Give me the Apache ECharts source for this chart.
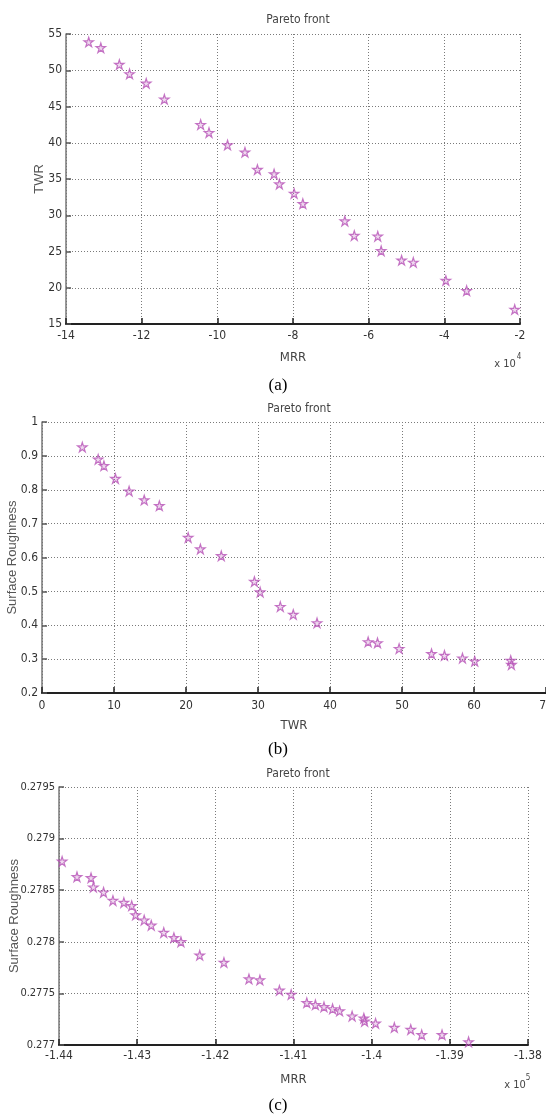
<!DOCTYPE html>
<html>
<head>
<meta charset="utf-8">
<script src="https://cdn.jsdelivr.net/npm/echarts@6/dist/echarts.min.js"></script>
<style>
  html, body { margin: 0; padding: 0; background: #fff; }
  #main { width: 546px; height: 1116px; }
</style>
</head>
<body>
<div id="main"></div>
<script>
// (a) MRR (x 10^4) vs TWR
const mrrA = [-13.40, -13.08, -12.59, -12.32, -11.88, -11.40, -10.44, -10.22, -9.73, -9.27, -8.94, -8.50,
  -8.36, -7.97, -7.74, -6.63, -6.38, -5.76, -5.67, -5.13, -4.82, -3.96, -3.41, -2.14];
const twrA = [53.9, 53.1, 50.8, 49.5, 48.2, 46.0, 42.5, 41.4, 39.7, 38.7, 36.3, 35.7,
  34.3, 33.0, 31.6, 29.2, 27.2, 27.1, 25.1, 23.8, 23.5, 21.0, 19.6, 17.0];

// (b) TWR vs surface roughness
const twrB = [5.6, 7.8, 8.6, 10.2, 12.1, 14.2, 16.3, 20.3, 22.0, 24.9, 29.5, 30.3,
  33.1, 34.9, 38.2, 45.3, 46.6, 49.6, 54.1, 55.9, 58.4, 60.1, 65.1, 65.2];
const srB = [0.926, 0.890, 0.871, 0.833, 0.796, 0.770, 0.753, 0.659, 0.625, 0.605, 0.529, 0.498,
  0.455, 0.432, 0.407, 0.351, 0.348, 0.331, 0.316, 0.311, 0.303, 0.294, 0.296, 0.284];

// (c) MRR (x 10^5) vs surface roughness
const mrrC = [-1.4396, -1.4377, -1.4359, -1.4356, -1.4343, -1.4331, -1.4317, -1.4307, -1.4302, -1.4291,
  -1.4282, -1.4266, -1.4253, -1.4244, -1.4220, -1.4189, -1.4157, -1.4143, -1.4118, -1.4103,
  -1.4083, -1.4072, -1.4061, -1.4050, -1.4041, -1.4025, -1.4010, -1.4009, -1.3995, -1.3971,
  -1.3950, -1.3936, -1.3910, -1.3876];
const srC = [0.27878, 0.27863, 0.27862, 0.27853, 0.27848, 0.27840, 0.27838, 0.27835, 0.27826, 0.27821,
  0.27816, 0.27809, 0.27804, 0.27800, 0.27787, 0.27780, 0.27764, 0.27763, 0.27753, 0.27749,
  0.27741, 0.27739, 0.27737, 0.27735, 0.27733, 0.27728, 0.27726, 0.27723, 0.27721, 0.27717,
  0.27715, 0.27710, 0.27710, 0.27703];

const panelTitle = "Pareto front";
const panelLabels = ["(a)", "(b)", "(c)"];

const narrow = "'Liberation Sans Narrow', 'DejaVu Sans Condensed', 'Liberation Sans', sans-serif";
const plain = "'Liberation Sans', Arial, sans-serif";
const serif = "'Liberation Serif', 'Times New Roman', serif";
const star = "path://M0,-100 L22.45,-30.9 L95.1,-30.9 L36.3,11.8 L58.8,80.9 L0,38.2 L-58.8,80.9 L-36.3,11.8 L-95.1,-30.9 L-22.45,-30.9 Z";

const trim = (v) => String(parseFloat(v.toFixed(5)));

function xAx(idx, min, max, interval, name, gap, margin) {
  return {
    gridIndex: idx, type: "value", min: min, max: max, interval: interval,
    name: name, nameLocation: "middle", nameGap: gap, nameMoveOverlap: false,
    nameTextStyle: { fontFamily: narrow, fontSize: 13, color: "#444" },
    axisLine: { show: true, onZero: false, lineStyle: { color: "#222", width: 2 } },
    axisTick: { show: true, inside: true, length: 6, lineStyle: { color: "#222", width: 1.5 } },
    axisLabel: { fontFamily: narrow, fontSize: 12, color: "#333", margin: margin, formatter: trim,
      showMaxLabel: true, hideOverlap: false },
    splitLine: { show: true, lineStyle: { color: "#7a7a7a", type: [1, 2], width: 1 } }
  };
}

function yAx(idx, min, max, interval, name, gap, labelSize) {
  return {
    gridIndex: idx, type: "value", min: min, max: max, interval: interval,
    name: name, nameLocation: "middle", nameGap: gap, nameMoveOverlap: false,
    nameTextStyle: { fontFamily: plain, fontSize: 13, color: "#555" },
    axisLine: { show: true, onZero: false, lineStyle: { color: "#777", width: 1.5 } },
    axisTick: { show: true, inside: true, length: 5, lineStyle: { color: "#555", width: 1.5 } },
    axisLabel: { fontFamily: narrow, fontSize: labelSize, color: "#333", margin: 4, formatter: trim },
    splitLine: { show: true, lineStyle: { color: "#7a7a7a", type: [1, 2], width: 1 } }
  };
}

function pts(xs, ys) {
  return xs.map((x, i) => [x, ys[i]]);
}

function sc(idx, data) {
  return {
    type: "scatter", xAxisIndex: idx, yAxisIndex: idx, data: data,
    symbol: star, symbolSize: 9.5,
    itemStyle: { color: "rgba(190,100,190,0.3)", borderColor: "#b653b6", borderWidth: 1.2 },
    silent: true, animation: false
  };
}

function ttl(cx, top) {
  return {
    text: panelTitle, left: cx, top: top, textAlign: "center",
    textStyle: { fontFamily: narrow, fontSize: 12, fontWeight: "normal", color: "#444" }
  };
}

function txt(x, y, s, font, size, color) {
  return {
    type: "text", x: x, y: y,
    style: { text: s, font: size + "px " + font, fill: color, textAlign: "center", textVerticalAlign: "middle" }
  };
}

const chart = echarts.init(document.getElementById("main"));
chart.setOption({
  animation: false,
  backgroundColor: "#fff",
  title: [ttl(293, 9), ttl(294, 398), ttl(293, 763)],
  grid: [
    { left: 66, top: 34, width: 454, height: 290, outerBoundsMode: "none", containLabel: false },
    { left: 42, top: 422, width: 504, height: 271, outerBoundsMode: "none", containLabel: false },
    { left: 59, top: 787, width: 469, height: 258, outerBoundsMode: "none", containLabel: false }
  ],
  xAxis: [
    xAx(0, -14, -2, 2, "MRR", 27, 6),
    xAx(1, 0, 70, 10, "TWR", 26, 7),
    xAx(2, -1.44, -1.38, 0.01, "MRR", 28, 5)
  ],
  yAxis: [
    yAx(0, 15, 55, 5, "TWR", 20, 12),
    yAx(1, 0.2, 1, 0.1, "Surface Roughness", 23, 12),
    yAx(2, 0.277, 0.2795, 0.0005, "Surface Roughness", 38, 11)
  ],
  series: [
    sc(0, pts(mrrA, twrA)),
    sc(1, pts(twrB, srB)),
    sc(2, pts(mrrC, srC))
  ],
  graphic: [
    txt(505, 364, "x 10", narrow, 11, "#444"),
    txt(519, 357, "4", narrow, 8, "#444"),
    txt(515, 1085, "x 10", narrow, 11, "#444"),
    txt(528, 1078, "5", narrow, 8, "#444"),
    txt(278, 386, panelLabels[0], serif, 17, "#000"),
    txt(278, 750, panelLabels[1], serif, 17, "#000"),
    txt(278, 1106, panelLabels[2], serif, 17, "#000")
  ]
});
</script>
</body>
</html>
